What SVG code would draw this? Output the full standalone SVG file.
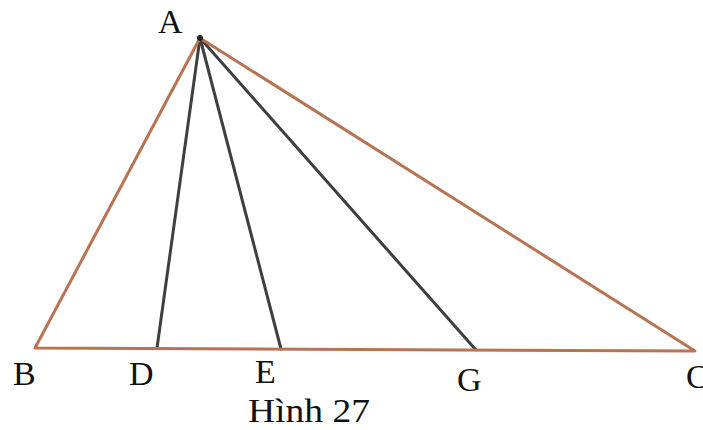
<svg xmlns="http://www.w3.org/2000/svg" width="703" height="430" viewBox="0 0 703 430">
<style>
.tri{stroke:#b87352;stroke-width:3;fill:none;stroke-linecap:round;stroke-linejoin:round}
.seg{stroke:#3f3f42;stroke-width:3;fill:none;stroke-linecap:round}
.lbl{font-family:"Liberation Serif",serif;font-size:34px;fill:#111}
</style>
<rect width="703" height="430" fill="#fff"/>
<g id="connectors">
<line class="seg" x1="200" y1="38" x2="157" y2="348"/>
<line class="seg" x1="200" y1="38" x2="281" y2="349"/>
<line class="seg" x1="200" y1="38" x2="476" y2="350"/>
<polygon class="tri" points="200,38 35,348 695,351"/>
</g>
<g id="A"><circle cx="200" cy="38" r="3" fill="#222"/><text class="lbl" x="158" y="33">A</text></g>
<g id="B"><text class="lbl" x="13" y="385">B</text></g>
<g id="D"><text class="lbl" x="129" y="385">D</text></g>
<g id="E"><text class="lbl" x="255" y="383">E</text></g>
<g id="G"><text class="lbl" x="457" y="391">G</text></g>
<g id="C"><text class="lbl" x="686" y="388">C</text></g>
<text class="lbl" x="248" y="422" font-size="35" textLength="122" lengthAdjust="spacingAndGlyphs">Hình 27</text>
</svg>
